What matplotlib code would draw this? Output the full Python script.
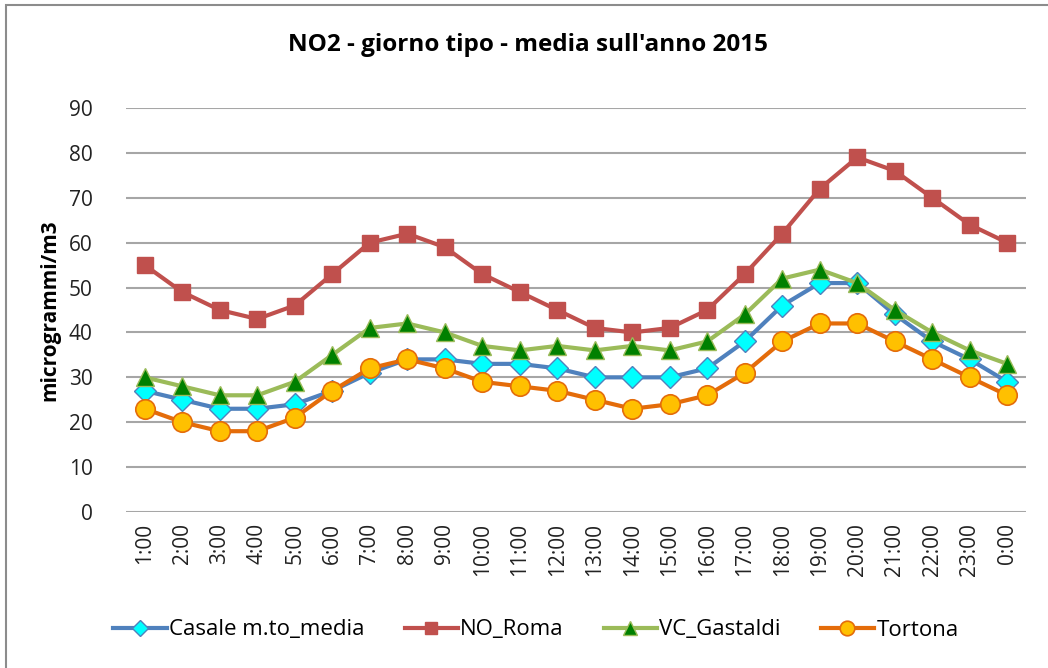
import matplotlib
matplotlib.use("Agg")
import matplotlib.pyplot as plt
from matplotlib.patches import Rectangle

hours = ["1:00", "2:00", "3:00", "4:00", "5:00", "6:00", "7:00", "8:00", "9:00", "10:00",
         "11:00", "12:00", "13:00", "14:00", "15:00", "16:00", "17:00", "18:00", "19:00",
         "20:00", "21:00", "22:00", "23:00", "0:00"]
casale = [27, 25, 23, 23, 24, 27, 31, 34, 34, 33, 33, 32, 30, 30, 30, 32, 38, 46, 51, 51, 44, 38, 34, 29]
no_roma = [55, 49, 45, 43, 46, 53, 60, 62, 59, 53, 49, 45, 41, 40, 41, 45, 53, 62, 72, 79, 76, 70, 64, 60]
vc_gastaldi = [30, 28, 26, 26, 29, 35, 41, 42, 40, 37, 36, 37, 36, 37, 36, 38, 44, 52, 54, 51, 45, 40, 36, 33]
tortona = [23, 20, 18, 18, 21, 27, 32, 34, 32, 29, 28, 27, 25, 23, 24, 26, 31, 38, 42, 42, 38, 34, 30, 26]
yticks = [0, 10, 20, 30, 40, 50, 60, 70, 80, 90]

plt.rcParams['font.family'] = ['Open Sans', 'DejaVu Sans']

fig = plt.figure(figsize=(10.48, 6.68), dpi=100)
fig.patches.append(Rectangle((6/1048, -0.1), 1.2, 1 - 5/668 + 0.1, transform=fig.transFigure,
                             fill=False, edgecolor='#8c8c8c', linewidth=1.5))
ax = fig.add_axes([126/1048, 1 - 512/668, 900/1048, 404/668])

x = list(range(len(hours)))
ax.plot(x, casale, color='#4F81BD', lw=3, marker='D', markersize=11,
        markerfacecolor='#00FFFF', markeredgecolor='#4F81BD', markeredgewidth=1, label='Casale m.to_media', zorder=3)
ax.plot(x, no_roma, color='#C0504D', lw=3, marker='s', markersize=11,
        markerfacecolor='#C0504D', markeredgecolor='#C0504D', label='NO_Roma', zorder=3)
ax.plot(x, vc_gastaldi, color='#9BBB59', lw=3, marker='^', markersize=13,
        markerfacecolor='#008000', markeredgecolor='#9BBB59', markeredgewidth=1, label='VC_Gastaldi', zorder=3)
ax.plot(x, tortona, color='#E46C0A', lw=3, marker='o', markersize=14,
        markerfacecolor='#FFC000', markeredgecolor='#E46C0A', markeredgewidth=1.2, label='Tortona', zorder=3)

ax.set_xlim(-0.5, len(hours) - 0.5)
ax.set_ylim(0, 90)
ax.set_yticks(yticks)
ax.set_yticklabels([str(v) for v in yticks], fontsize=15, color='#222222')
ax.set_xticks(x)
ax.set_xticklabels(hours, rotation=90, fontsize=15, color='#222222')
ax.tick_params(axis='both', length=0)
ax.tick_params(axis='y', pad=24)
ax.tick_params(axis='x', pad=8)
for s in ax.spines.values():
    s.set_visible(False)
ax.yaxis.grid(True, color='#a6a6a6', linewidth=1.5)
ax.set_axisbelow(True)

ax.set_ylabel('microgrammi/m3', fontsize=15, fontweight='bold', labelpad=10)
ax.yaxis.set_label_coords(-66/900, 0.5)

fig.text(528/1048, 1 - 45/668, "NO2 - giorno tipo - media sull'anno 2015", ha='center', va='center',
         fontsize=17.5, fontweight='bold')

leg = fig.legend(loc='center', bbox_to_anchor=(536/1048, 1 - 630/668), ncol=4, frameon=False,
                 fontsize=16, handlelength=2.4, columnspacing=1.8, handletextpad=0.1, markerscale=0.75)

fig.savefig('out.png', dpi=100)
